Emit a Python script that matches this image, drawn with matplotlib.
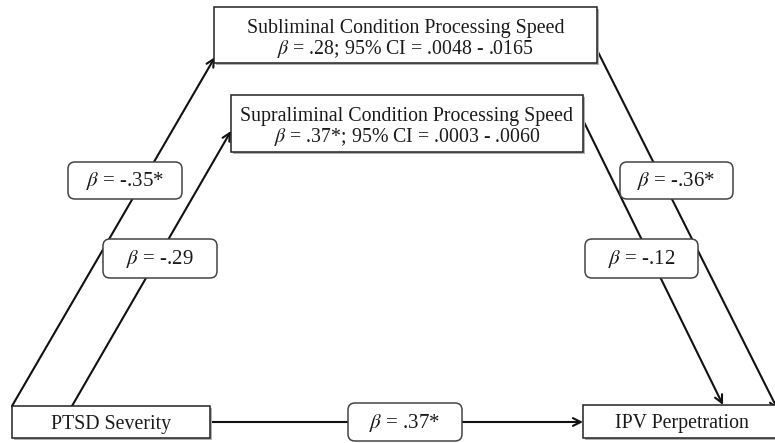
import matplotlib.pyplot as plt
from matplotlib.patches import FancyBboxPatch, Rectangle

plt.rcParams['font.family'] = ['Liberation Serif', 'DejaVu Serif']
plt.rcParams['mathtext.fontset'] = 'stix'
plt.rcParams['text.color'] = '#1a1a1a'

# node labels
mediators = ["Subliminal Condition Processing Speed",
             "Supraliminal Condition Processing Speed"]
indirect = ["$\\beta$ = .28; 95% CI = .0048 - .0165",
            "$\\beta$ = .37*; 95% CI = .0003 - .0060"]
predictor = "PTSD Severity"
outcome = "IPV Perpetration"

# path coefficients
a_paths = ["$\\beta$ = -.35*", "$\\beta$ = -.29"]
b_paths = ["$\\beta$ = -.36*", "$\\beta$ = -.12"]
c_path = "$\\beta$ = .37*"

# layout (pixels, y down)
med_boxes = [(214, 7, 597, 63), (231, 95, 583, 152)]
pred_box = (12, 406, 210, 438)
out_box = (583, 405, 800, 438)
a_boxes = [(68, 162, 182, 199), (103, 239, 217, 278)]
b_boxes = [(620, 162, 733, 199), (585, 239, 698, 278)]
c_box = (348, 403, 462, 441)
a_lines = [((12, 406), (215, 57)), ((72, 406), (231, 131))]
b_lines = [((597, 50), (778, 410)), ((583, 120), (723, 405))]

fig = plt.figure(figsize=(7.75, 4.43), dpi=100)
ax = fig.add_axes([0, 0, 1, 1])
ax.set_xlim(0, 775)
ax.set_ylim(443, 0)
ax.axis('off')


def square_box(b, lines, cx=None, fs=14.3):
    x0, y0, x1, y1 = b
    ax.add_patch(Rectangle((x0 + 2, y0 + 2), x1 - x0, y1 - y0,
                           facecolor='#b0b0b0', edgecolor='none', zorder=3))
    ax.add_patch(Rectangle((x0, y0), x1 - x0, y1 - y0,
                           facecolor='white', edgecolor='#222222', lw=1.1, zorder=4))
    if cx is None:
        cx = (x0 + x1) / 2
    mid = (y0 + y1) / 2
    if len(lines) == 1:
        ax.text(cx, mid + 2, lines[0], ha='center', va='center', fontsize=fs, zorder=5)
    else:
        ax.text(cx, mid - 7, lines[0], ha='center', va='center', fontsize=fs, zorder=5)
        ax.text(cx, mid + 14, lines[1], ha='center', va='center', fontsize=fs, zorder=5)


def round_box(b, t):
    x0, y0, x1, y1 = b
    ax.add_patch(FancyBboxPatch((x0, y0), x1 - x0, y1 - y0,
                                boxstyle="round,pad=0,rounding_size=7",
                                facecolor='white', edgecolor='#444444', lw=1.1, zorder=4))
    ax.text((x0 + x1) / 2, (y0 + y1) / 2 + 1, t, ha='center', va='center',
            fontsize=15, zorder=5)


def arrow(p, q):
    ax.annotate("", xy=q, xytext=p, annotation_clip=False,
                arrowprops=dict(arrowstyle='->', lw=1.5, color='#111111',
                                shrinkA=0, shrinkB=0, mutation_scale=14), zorder=2)


for p, q in a_lines + b_lines:
    arrow(p, q)
arrow((pred_box[2], 422), (out_box[0], 422))

square_box(med_boxes[0], [mediators[0], indirect[0]])
square_box(med_boxes[1], [mediators[1], indirect[1]])
square_box(pred_box, [predictor])
square_box(out_box, [outcome], cx=682)

for b, t in zip(a_boxes, a_paths):
    round_box(b, t)
for b, t in zip(b_boxes, b_paths):
    round_box(b, t)
round_box(c_box, c_path)

fig.savefig("out.png", dpi=100)
